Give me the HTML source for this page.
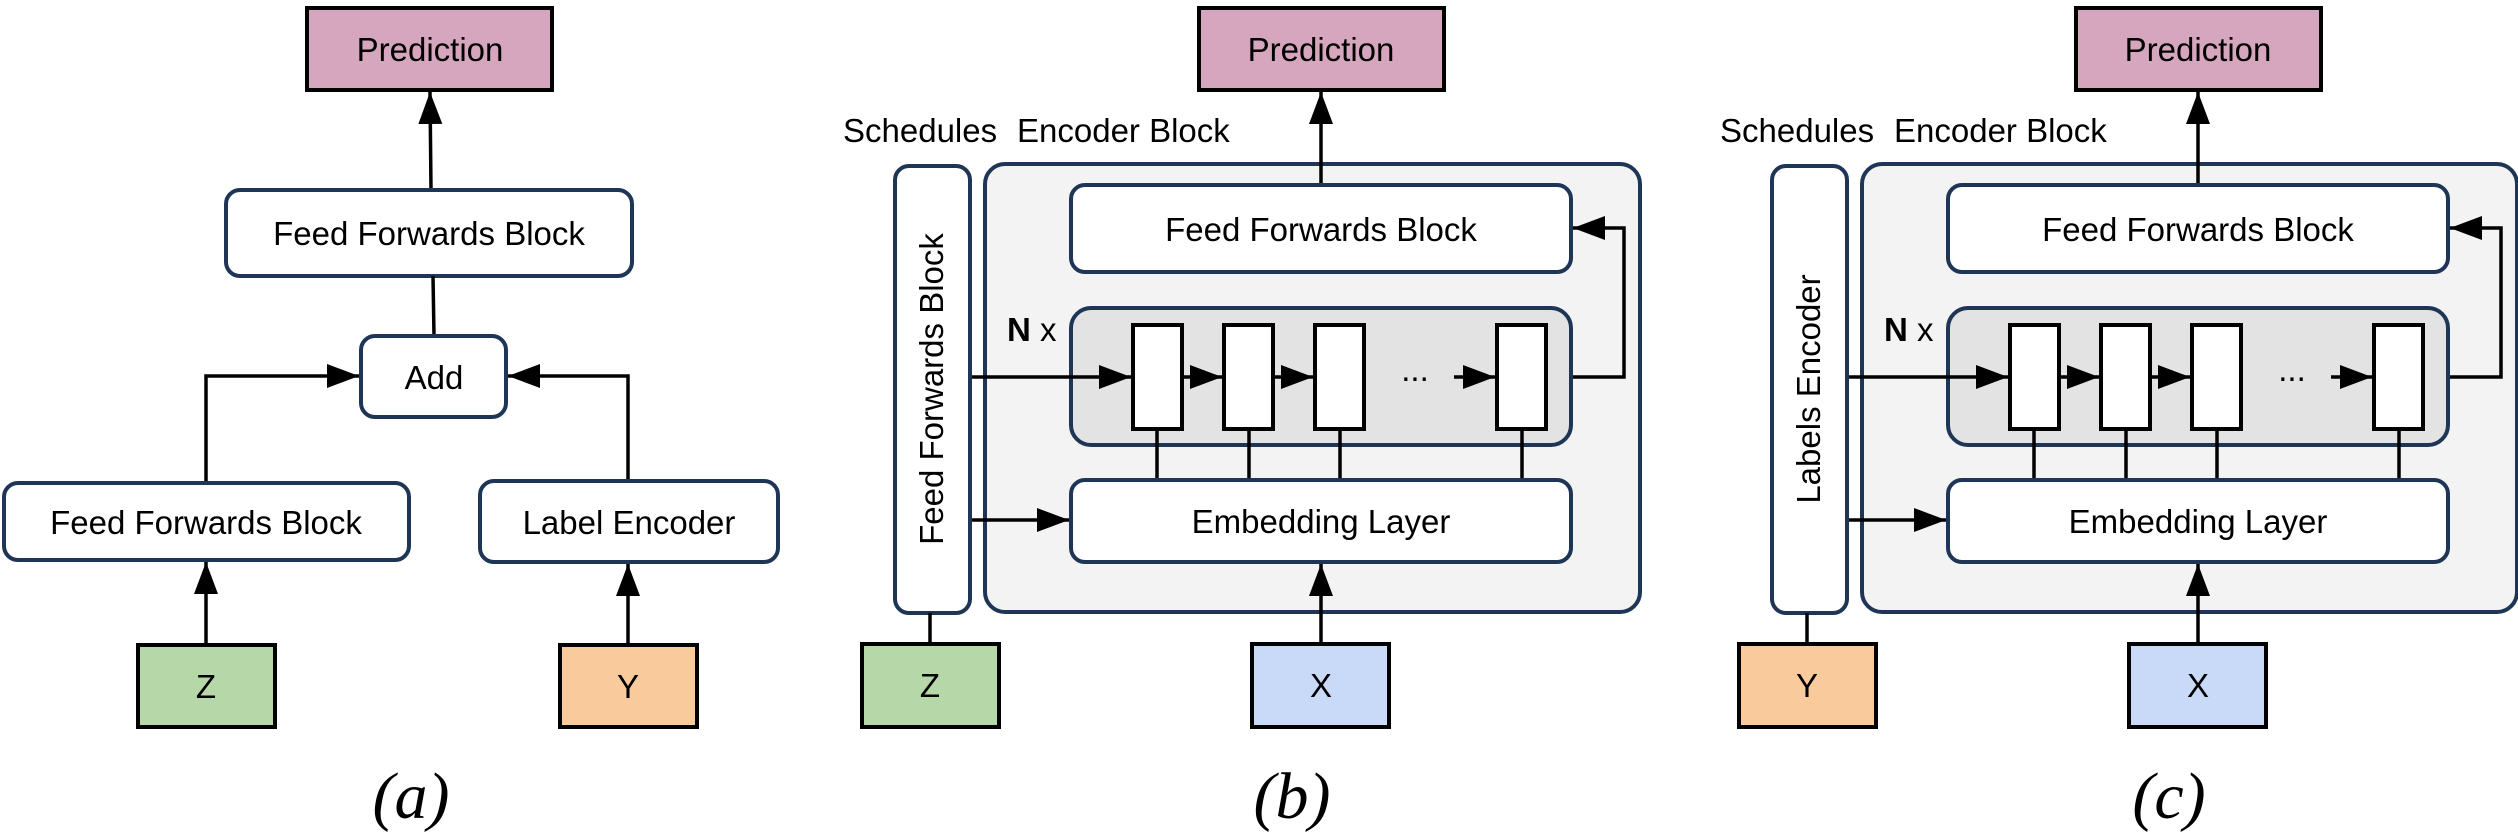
<!DOCTYPE html>
<html><head><meta charset="utf-8"><style>
html,body{margin:0;padding:0;background:#fff;}
svg{display:block;}
text{font-family:"Liberation Sans",sans-serif;font-size:33px;fill:#000;}
.it{font-family:"Liberation Serif",serif;font-style:italic;font-size:66px;}
.bx{fill:#fff;stroke:#1f3556;stroke-width:4;}
.sq{stroke:#000;stroke-width:4;}
.ln{stroke:#000;stroke-width:3.5;fill:none;}
</style></head><body>
<svg width="2518" height="839" viewBox="0 0 2518 839" xmlns="http://www.w3.org/2000/svg">
<defs>
<marker id="ar" markerUnits="userSpaceOnUse" markerWidth="34" markerHeight="26" refX="32" refY="12" orient="auto">
<path d="M0,0 L32,12 L0,24 Z" fill="#000"/>
</marker>
</defs>

<!-- (a) -->
<rect class="sq" x="307" y="8" width="245" height="82" fill="#d5a6bd"/>
<text x="430" y="61" text-anchor="middle">Prediction</text>
<line class="ln" x1="431" y1="190" x2="430" y2="92" marker-end="url(#ar)"/>
<rect class="bx" x="226" y="190" width="406" height="86" rx="14"/>
<text x="429" y="245" text-anchor="middle">Feed Forwards Block</text>
<line class="ln" x1="433" y1="276" x2="434" y2="336"/>
<rect class="bx" x="361" y="336" width="145" height="81" rx="14"/>
<text x="434" y="389" text-anchor="middle">Add</text>
<polyline class="ln" points="206,483 206,376 359,376" marker-end="url(#ar)"/>
<polyline class="ln" points="628,481 628,376 508,376" marker-end="url(#ar)"/>
<rect class="bx" x="4" y="483" width="405" height="77" rx="14"/>
<text x="206" y="534" text-anchor="middle">Feed Forwards Block</text>
<rect class="bx" x="480" y="481" width="298" height="81" rx="14"/>
<text x="629" y="534" text-anchor="middle">Label Encoder</text>
<line class="ln" x1="206" y1="645" x2="206" y2="562" marker-end="url(#ar)"/>
<line class="ln" x1="628" y1="645" x2="628" y2="564" marker-end="url(#ar)"/>
<rect class="sq" x="138" y="645" width="137" height="82" fill="#b6d7a8"/>
<text x="206" y="698" text-anchor="middle">Z</text>
<rect class="sq" x="560" y="645" width="137" height="82" fill="#f9cb9c"/>
<text x="628" y="698" text-anchor="middle">Y</text>
<text class="it" x="411" y="818" text-anchor="middle">(a)</text>

<!-- (b) common encoder -->
<g id="enc">
<rect class="sq" x="1199" y="8" width="245" height="82" fill="#d5a6bd"/>
<text x="1321" y="61" text-anchor="middle">Prediction</text>
<text x="843" y="142">Schedules</text>
<text x="1017" y="142">Encoder Block</text>
<rect x="985" y="164" width="655" height="448" rx="20" fill="#f3f3f3" stroke="#1f3556" stroke-width="4"/>
<line class="ln" x1="1321" y1="185" x2="1321" y2="92" marker-end="url(#ar)"/>
<rect class="bx" x="1071" y="185" width="500" height="87" rx="14"/>
<text x="1321" y="241" text-anchor="middle">Feed Forwards Block</text>
<rect x="1071" y="308" width="500" height="137" rx="20" fill="#e3e3e3" stroke="#1f3556" stroke-width="4"/>
<text x="1007" y="341"><tspan font-weight="bold">N</tspan> x</text>
<line class="ln" x1="1157" y1="429" x2="1157" y2="480"/>
<line class="ln" x1="1249" y1="429" x2="1249" y2="480"/>
<line class="ln" x1="1340" y1="429" x2="1340" y2="480"/>
<line class="ln" x1="1522" y1="429" x2="1522" y2="480"/>
<rect class="sq" x="1133" y="325" width="49" height="104" fill="#fff"/>
<rect class="sq" x="1224" y="325" width="49" height="104" fill="#fff"/>
<rect class="sq" x="1315" y="325" width="49" height="104" fill="#fff"/>
<rect class="sq" x="1497" y="325" width="49" height="104" fill="#fff"/>
<line class="ln" x1="970" y1="377" x2="1131" y2="377" marker-end="url(#ar)"/>
<line class="ln" x1="1184" y1="377" x2="1222" y2="377" marker-end="url(#ar)"/>
<line class="ln" x1="1275" y1="377" x2="1313" y2="377" marker-end="url(#ar)"/>
<line class="ln" x1="1454" y1="377" x2="1495" y2="377" marker-end="url(#ar)"/>
<text x="1415" y="381" text-anchor="middle">...</text>
<polyline class="ln" points="1573,377 1624,377 1624,228 1573,228" marker-end="url(#ar)"/>
<rect class="bx" x="1071" y="480" width="500" height="82" rx="14"/>
<text x="1321" y="533" text-anchor="middle">Embedding Layer</text>
<line class="ln" x1="970" y1="520" x2="1069" y2="520" marker-end="url(#ar)"/>
<line class="ln" x1="1321" y1="644" x2="1321" y2="564" marker-end="url(#ar)"/>
<rect class="sq" x="1252" y="644" width="137" height="83" fill="#c9daf8"/>
<text x="1321" y="697" text-anchor="middle">X</text>
<rect class="bx" x="895" y="166" width="75" height="447" rx="14"/>
<line class="ln" x1="930" y1="613" x2="930" y2="644"/>
</g>
<text x="932" y="389" text-anchor="middle" transform="rotate(-90 932 389)" dy="11">Feed Forwards Block</text>
<rect class="sq" x="862" y="644" width="137" height="83" fill="#b6d7a8"/>
<text x="930" y="697" text-anchor="middle">Z</text>
<text class="it" x="1292" y="818" text-anchor="middle">(b)</text>

<!-- (c) -->
<use href="#enc" x="877" y="0"/>
<text x="1809" y="389" text-anchor="middle" transform="rotate(-90 1809 389)" dy="11">Labels Encoder</text>
<rect class="sq" x="1739" y="644" width="137" height="83" fill="#f9cb9c"/>
<text x="1807" y="697" text-anchor="middle">Y</text>
<text class="it" x="2169" y="818" text-anchor="middle">(c)</text>
</svg>
</body></html>
